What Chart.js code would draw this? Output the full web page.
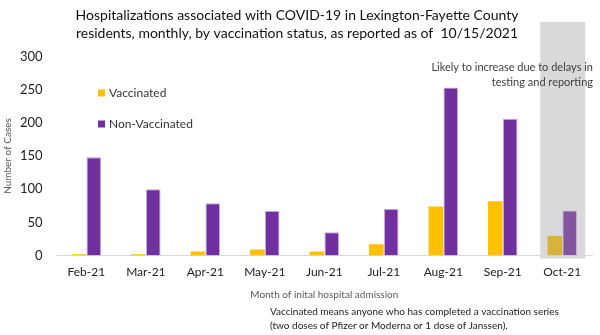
<!DOCTYPE html>
<html lang="en">
<head>
    <meta charset="UTF-8">
    <title>Hospitalizations by vaccination status</title>
    <script src="https://cdn.jsdelivr.net/npm/chart.js"></script>
    <style>
        body { margin: 0; background: #fff; }
        #wrap { width: 600px; height: 335px; position: relative; }
    </style>
</head>
<body>
    <div id="wrap"><canvas id="hospChart"></canvas></div>

    <script>
        // Data
        const months = ['Feb-21', 'Mar-21', 'Apr-21', 'May-21', 'Jun-21', 'Jul-21', 'Aug-21', 'Sep-21', 'Oct-21'];
        const vaccinated = [2, 2, 6, 9, 6, 17, 74, 82, 30];
        const nonVaccinated = [148, 100, 79, 67, 35, 70, 253, 206, 68];
        const yTicks = [0, 50, 100, 150, 200, 250, 300];

        const FONT = 'Lato, "Open Sans", sans-serif';
        const partialIndex = months.length - 1; // Oct is incomplete

        const vacColors = months.map((m, i) => i === partialIndex ? '#D8B33C' : '#FFC000');
        const nonVacColors = months.map((m, i) => i === partialIndex ? '#83559F' : '#7030A0');

        // grey band behind the last (incomplete) month plus note text, legend and footnote
        const extras = {
            id: 'extras',
            beforeDatasetsDraw(chart) {
                const ctx = chart.ctx;
                const x = chart.scales.x.getPixelForValue(partialIndex);
                ctx.save();
                ctx.fillStyle = '#D9D9DC';
                ctx.fillRect(x - 22, 22, 45, chart.chartArea.bottom - 22 + 3);
                ctx.restore();
            },
            afterDraw(chart) {
                const ctx = chart.ctx;
                ctx.save();
                ctx.textBaseline = 'middle';

                // note on the right
                ctx.font = '11px ' + FONT;
                ctx.fillStyle = '#404040';
                ctx.textAlign = 'right';
                ctx.fillText('Likely to increase due to delays in', 593, 67);
                ctx.fillText('testing and reporting', 593, 82);

                // legend
                ctx.textAlign = 'left';
                ctx.font = '12px ' + FONT;
                const items = [['Vaccinated', vacColors[0], 93], ['Non-Vaccinated', nonVacColors[0], 124]];
                items.forEach(([label, color, y]) => {
                    ctx.fillStyle = color;
                    ctx.fillRect(98, y - 3.5, 7, 7);
                    ctx.fillStyle = '#333';
                    ctx.fillText(label, 109, y);
                });

                // footnote
                ctx.font = '10px ' + FONT;
                ctx.fillStyle = '#222';
                ctx.fillText('Vaccinated means anyone who has completed a vaccination series', 270, 312);
                ctx.fillText('(two doses of Pfizer or Moderna or 1 dose of Janssen).', 270, 326);
                ctx.restore();
            }
        };

        const ctx = document.getElementById('hospChart').getContext('2d');
        const hospChart = new Chart(ctx, {
            type: 'bar',
            data: {
                labels: months,
                datasets: [
                    {
                        label: 'Vaccinated',
                        data: vaccinated,
                        backgroundColor: vacColors,
                        borderWidth: 0,
                        categoryPercentage: 0.5,
                        barPercentage: 0.98
                    },
                    {
                        label: 'Non-Vaccinated',
                        data: nonVaccinated,
                        backgroundColor: nonVacColors,
                        borderColor: '#C9A8DC',
                        borderWidth: { top: 1, left: 1, right: 1, bottom: 0 },
                        categoryPercentage: 0.5,
                        barPercentage: 0.98
                    }
                ]
            },
            options: {
                responsive: true,
                maintainAspectRatio: false,
                animation: false,
                layout: { padding: { top: 0, right: 8, bottom: 34, left: 2 } },
                scales: {
                    x: {
                        grid: { display: false },
                        border: { color: '#D9D9D9', width: 1 },
                        ticks: { color: '#222', font: { family: FONT, size: 12 }, padding: 1 },
                        title: {
                            display: true,
                            text: 'Month of inital hospital admission',
                            color: '#595959',
                            font: { family: FONT, size: 10 },
                            padding: { top: 9, bottom: 0 }
                        }
                    },
                    y: {
                        min: 0,
                        max: 300,
                        afterBuildTicks(axis) {
                            axis.ticks = yTicks.map(v => ({ value: v }));
                        },
                        grid: { display: false },
                        border: { display: false },
                        ticks: { color: '#222', font: { family: FONT, size: 13 }, padding: 6 },
                        title: {
                            display: true,
                            text: 'Number of Cases',
                            color: '#595959',
                            font: { family: FONT, size: 10 },
                            padding: { top: 0, bottom: 0 }
                        }
                    }
                },
                plugins: {
                    legend: { display: false },
                    tooltip: { enabled: false },
                    title: {
                        display: true,
                        text: ['Hospitalizations associated with COVID-19 in Lexington-Fayette County',
                               'residents, monthly, by vaccination status, as reported as of  10/15/2021'],
                        color: '#111',
                        font: { family: FONT, size: 14, weight: 'normal', lineHeight: 1.3 },
                        padding: { top: 6, bottom: 14 }
                    }
                }
            },
            plugins: [extras]
        });
    </script>
</body>
</html>
